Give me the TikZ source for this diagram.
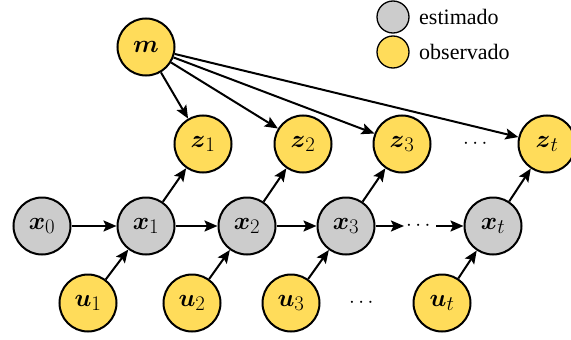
\documentclass[tikz,border=0pt]{standalone}
\usepackage{amsmath}
\usepackage{fontspec}
\setmainfont{Liberation Serif}
\usetikzlibrary{arrows.meta}
\definecolor{estcol}{RGB}{204,204,204}
\definecolor{obscol}{RGB}{255,220,90}
\tikzset{
  var/.style={circle, draw=black, line width=2pt, minimum size=57pt, inner sep=0pt,
              font=\fontsize{31}{36}\selectfont},
  est/.style={var, fill=estcol},
  obs/.style={var, fill=obscol},
  legcirc/.style={circle, draw=black, line width=1.3pt, minimum size=32pt, inner sep=0pt},
  legtext/.style={anchor=west, inner sep=0pt, font=\fontsize{22}{26}\selectfont},
  dotsnode/.style={inner sep=2pt, font=\fontsize{22}{26}\selectfont},
  edge/.style={line width=2pt, -{Stealth[length=13pt,width=11pt,inset=2.5pt]}},
}
\begin{document}
\begin{tikzpicture}[x=1pt,y=-1pt]
  \useasboundingbox (0,0) rectangle (571,340);
  % map node
  \node[obs] (m) at (146,47) {$\boldsymbol{m}$};
  % measurements
  \node[obs] (z1) at (203,144) {$\boldsymbol{z}_1$};
  \node[obs] (z2) at (303,144) {$\boldsymbol{z}_2$};
  \node[obs] (z3) at (402,144) {$\boldsymbol{z}_3$};
  \node[dotsnode] (zd) at (477,144) {$\cdots$};
  \node[obs] (zt) at (547,144) {$\boldsymbol{z}_t$};
  % states
  \node[est] (x0) at (42,226) {$\boldsymbol{x}_0$};
  \node[est] (x1) at (146,226) {$\boldsymbol{x}_1$};
  \node[est] (x2) at (247,226) {$\boldsymbol{x}_2$};
  \node[est] (x3) at (346,226) {$\boldsymbol{x}_3$};
  \node[dotsnode] (xd) at (420,226) {$\cdots$};
  \node[est] (xt) at (493,226) {$\boldsymbol{x}_t$};
  % controls
  \node[obs] (u1) at (88,303) {$\boldsymbol{u}_1$};
  \node[obs] (u2) at (192,303) {$\boldsymbol{u}_2$};
  \node[obs] (u3) at (291,303) {$\boldsymbol{u}_3$};
  \node[dotsnode] (ud) at (363,303) {$\cdots$};
  \node[obs] (ut) at (442,303) {$\boldsymbol{u}_t$};
  % legend
  \node[legcirc, fill=estcol] (le) at (393,17) {};
  \node[legcirc, fill=obscol] (lo) at (393,52) {};
  \node[legtext] (lte) at (419,17) {estimado};
  \node[legtext] (lto) at (419,52) {observado};
  % edges
  \foreach \t in {z1,z2,z3,zt} \draw[edge] (m) -- (\t);
  \draw[edge] (x0) -- (x1);
  \draw[edge] (x1) -- (x2);
  \draw[edge] (x2) -- (x3);
  \draw[edge] (x3) -- (xd);
  \draw[edge] (xd) -- (xt);
  \draw[edge] (x1) -- (z1);
  \draw[edge] (x2) -- (z2);
  \draw[edge] (x3) -- (z3);
  \draw[edge] (xt) -- (zt);
  \draw[edge] (u1) -- (x1);
  \draw[edge] (u2) -- (x2);
  \draw[edge] (u3) -- (x3);
  \draw[edge] (ut) -- (xt);
\end{tikzpicture}
\end{document}
